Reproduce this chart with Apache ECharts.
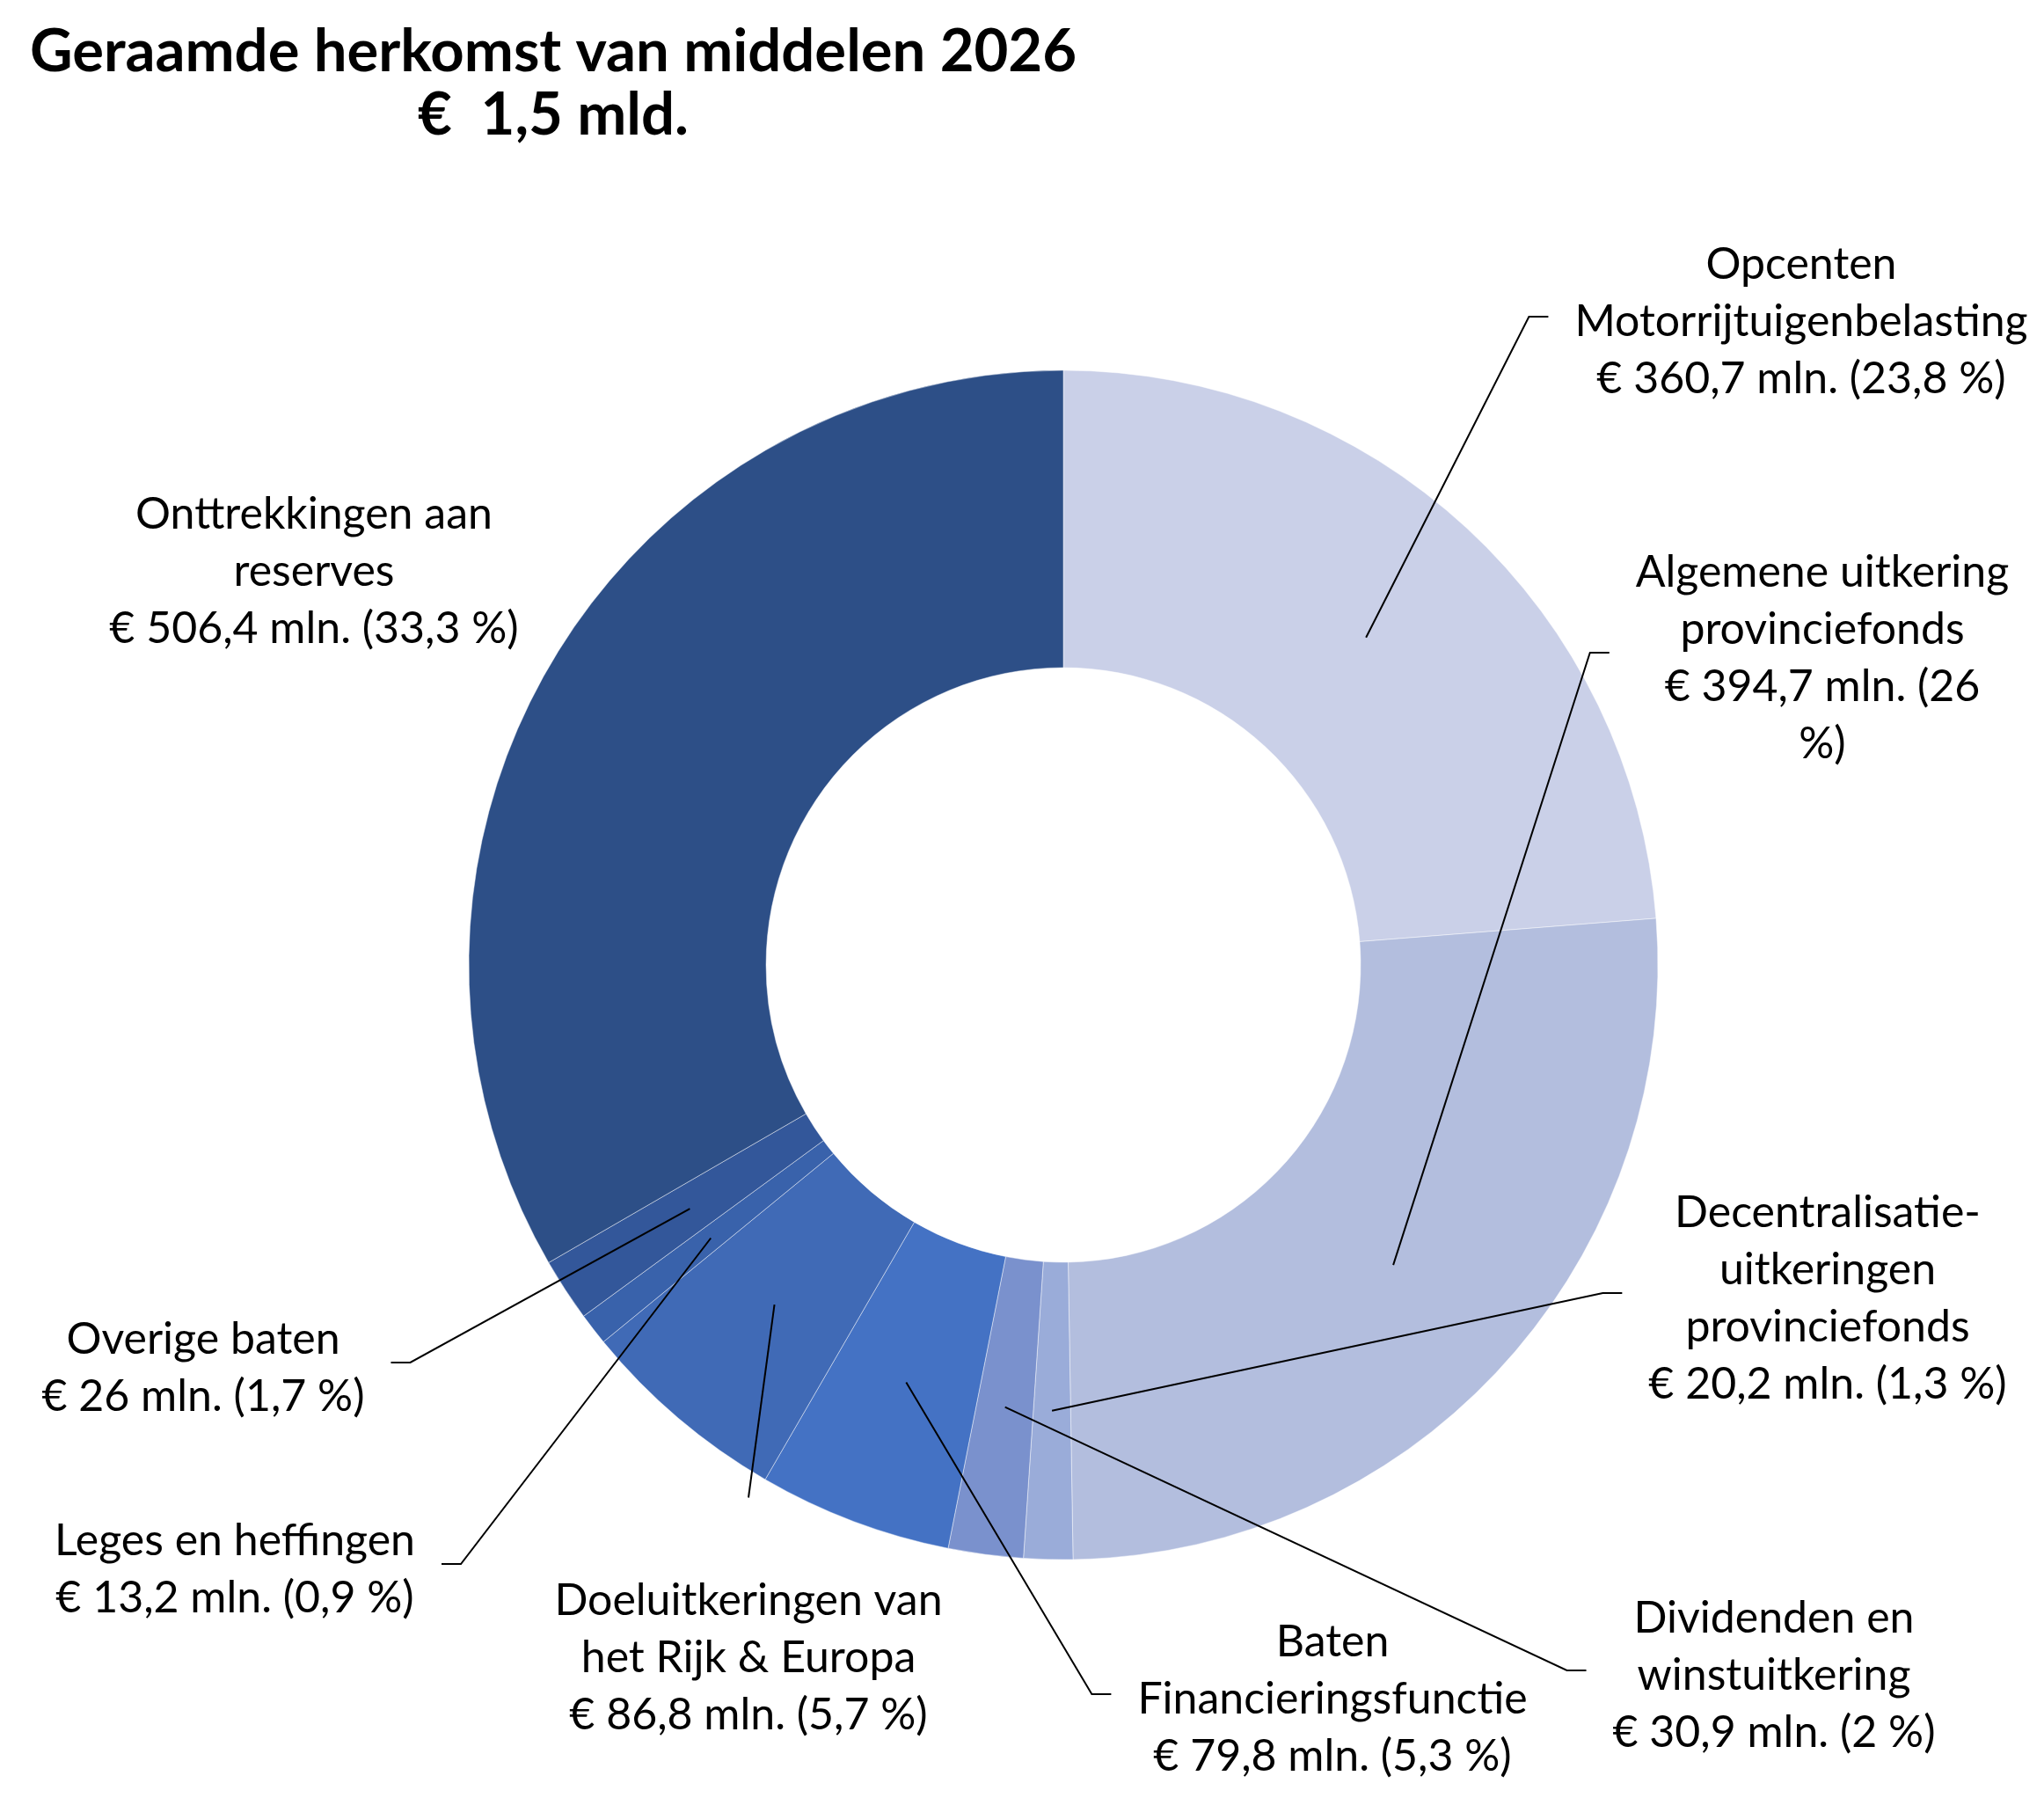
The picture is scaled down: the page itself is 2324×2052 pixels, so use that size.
<!DOCTYPE html>
<html>
<head>
<meta charset="utf-8">
<title>Geraamde herkomst van middelen 2026</title>
<script src="https://cdn.jsdelivr.net/npm/echarts@6/dist/echarts.min.js"></script>
<style>
html, body { margin: 0; padding: 0; background: #fff; }
#chart { width: 2324px; height: 2052px; }
</style>
</head>
<body>
<div id="chart"></div>
<script>
// data, in slice order clockwise from 12 o'clock
var categories = [
    'Opcenten Motorrijtuigenbelasting',
    'Algemene uitkering provinciefonds',
    'Decentralisatie-uitkeringen provinciefonds',
    'Dividenden en winstuitkering',
    'Baten Financieringsfunctie',
    'Doeluitkeringen van het Rijk & Europa',
    'Leges en heffingen',
    'Overige baten',
    'Onttrekkingen aan reserves'
];
var labelNames = [
    'Opcenten\nMotorrijtuigenbelasting',
    'Algemene uitkering\nprovinciefonds',
    'Decentralisatie-\nuitkeringen\nprovinciefonds',
    'Dividenden en\nwinstuitkering',
    'Baten\nFinancieringsfunctie',
    'Doeluitkeringen van\nhet Rijk & Europa',
    'Leges en heffingen',
    'Overige baten',
    'Onttrekkingen aan\nreserves'
];
var amounts = [360.7, 394.7, 20.2, 30.9, 79.8, 86.8, 13.2, 26, 506.4];
var titleLines = ['Geraamde herkomst van middelen 2026', '€  1,5 mld.'];

// looks
var colors = ['#cad0e8', '#b3bede', '#9aacd9', '#7a91cd', '#4472c4', '#406ab6', '#3962ab', '#33579a', '#2d4f87'];
var CX = 1209, CY = 1097, R0 = 338, R1 = 676;
var labelPos = [[2048, 366], [2072, 748], [2078, 1476], [2017, 1905], [1515, 1932], [851, 1885], [267, 1784], [231, 1555], [357, 650]];
var leaderSide = ['left', 'left', 'left', 'left', 'left', 'top', 'right', 'right', 'none'];
var pctBreak = [false, true, false, false, false, false, false, false, false];

function nl(v) {
    return String(v).replace('.', ',');
}
function pctText(p) {
    var r = Math.round(p * 10) / 10;
    return nl(r);
}

// middle angle of every slice (radians, clockwise from 12 o'clock)
var total = 0;
amounts.forEach(function (v) { total += v; });
var midAngles = [];
var run = 0;
amounts.forEach(function (v) {
    midAngles.push((run + v / 2) / total * Math.PI * 2);
    run += v;
});

var chart = echarts.init(document.getElementById('chart'));

var sliceData = [];
var labelData = [];
amounts.forEach(function (v, i) {
    sliceData.push({ name: categories[i], value: v, itemStyle: { color: colors[i] } });
    var item = { name: categories[i], value: v };
    if (leaderSide[i] === 'none') {
        item.labelLine = { show: false };
    }
    labelData.push(item);
});

// both pies share the same box
var pieBox = {
    type: 'pie',
    left: -1000,
    top: -1000,
    width: 4324,
    height: 4052,
    center: [CX + 1000, CY + 1000],
    radius: [R0, R1],
    startAngle: 90,
    clockwise: true,
    avoidLabelOverlap: false,
    emphasis: { disabled: true }
};

var option = {
    animation: false,
    backgroundColor: '#fff',
    title: {
        text: titleLines.join('\n'),
        left: 624,
        top: 18,
        textAlign: 'center',
        textStyle: {
            fontFamily: 'Lato',
            fontWeight: 'bold',
            fontSize: 67,
            lineHeight: 72,
            color: '#000'
        }
    },
    series: [
        echarts.util.extend({
            z: 2,
            itemStyle: {
                borderColor: 'rgba(255,255,255,0.45)',
                borderWidth: 1
            },
            label: { show: false },
            labelLine: { show: false },
            data: sliceData
        }, pieBox),
        // transparent copy on top, only for labels and leader lines
        echarts.util.extend({
            z: 5,
            silent: true,
            itemStyle: { color: 'rgba(0,0,0,0)', borderWidth: 0 },
            label: {
                show: true,
                position: 'outside',
                fontFamily: 'Lato',
                fontSize: 50,
                lineHeight: 65,
                color: '#000',
                align: 'center',
                formatter: function (p) {
                    var i = p.dataIndex;
                    var valLine = '€ ' + nl(p.value) + ' mln. (' + pctText(p.percent) + (pctBreak[i] ? '\n' : ' ') + '%)';
                    return labelNames[i] + '\n' + valLine;
                }
            },
            labelLine: {
                show: true,
                showAbove: true,
                length: 20,
                length2: 20,
                lineStyle: { color: '#000', width: 2 }
            },
            labelLayout: function (p) {
                var i = p.dataIndex;
                var pos = labelPos[i];
                var out = { x: pos[0], y: pos[1], align: 'center', verticalAlign: 'middle' };
                var side = leaderSide[i];
                if (side === 'none') {
                    return out;
                }
                // start inside the ring, on the slice's middle angle
                var rm = (R0 + R1) / 2;
                var start = [CX + rm * Math.sin(midAngles[i]), CY - rm * Math.cos(midAngles[i])];
                var w = p.labelRect.width, h = p.labelRect.height;
                var tickY = pos[1] - 6;
                if (side === 'left') {
                    var ex = pos[0] - w / 2 - 30;
                    out.labelLinePoints = [start, [ex - 22, tickY], [ex, tickY]];
                } else if (side === 'right') {
                    var sx = pos[0] + w / 2 + 30;
                    out.labelLinePoints = [start, [sx + 22, tickY], [sx, tickY]];
                } else {
                    var ty = pos[1] - h / 2 - 85;
                    out.labelLinePoints = [start, [pos[0], ty], [pos[0], ty]];
                }
                return out;
            },
            data: labelData
        }, pieBox)
    ]
};
chart.setOption(option);
</script>
</body>
</html>
